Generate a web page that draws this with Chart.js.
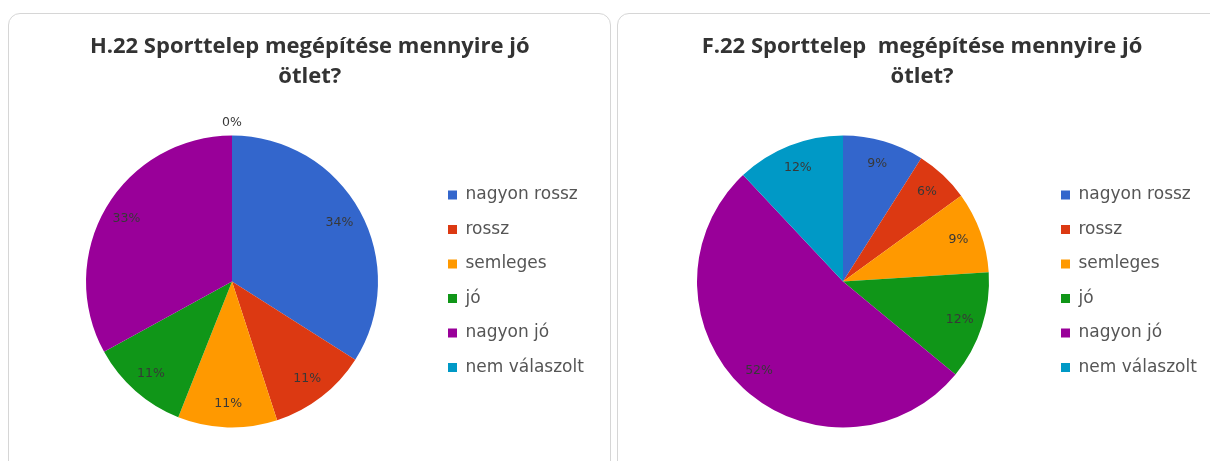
<!DOCTYPE html>
<html>
<head>
<meta charset="utf-8">
<script src="https://cdn.jsdelivr.net/npm/chart.js@4/dist/chart.umd.min.js"></script>
<style>
  html, body { margin: 0; padding: 0; background: #fff; overflow: hidden; }
  body { width: 1210px; height: 461px; position: relative; }
  .panel { position: absolute; top: 13px; height: 470px; border: 1px solid #d6d6d6; border-radius: 12px; background: #fff; }
  canvas { position: absolute; }
</style>
</head>
<body>
<div class="panel" style="left:8px; width:601px;"></div>
<div class="panel" style="left:617px; width:620px;"></div>
<canvas id="chartH" width="600" height="447" style="left:10px; top:14px;"></canvas>
<canvas id="chartF" width="590" height="447" style="left:620px; top:14px;"></canvas>
<script>
// Categories & values (percent)
const categories = ['nagyon rossz', 'rossz', 'semleges', 'jó', 'nagyon jó', 'nem válaszolt'];
const valuesH = [34, 11, 11, 11, 33, 0];
const valuesF = [9, 6, 9, 12, 52, 12];
const sliceColors = ['#3366cc', '#dc3912', '#ff9900', '#109618', '#990099', '#0099c6'];
const titleH = ['H.22 Sporttelep megépítése mennyire jó', 'ötlet?'];
const titleF = ['F.22 Sporttelep  megépítése mennyire jó', 'ötlet?'];

// percentage labels on slices
const pctLabels = {
  id: 'pctLabels',
  afterDatasetsDraw(chart) {
    const ctx = chart.ctx;
    const meta = chart.getDatasetMeta(0);
    const data = chart.data.datasets[0].data;
    ctx.save();
    ctx.font = '12.5px "DejaVu Sans"';
    ctx.fillStyle = '#383838';
    ctx.textAlign = 'center';
    ctx.textBaseline = 'middle';
    meta.data.forEach((arc, i) => {
      const p = arc.getProps(['x', 'y', 'startAngle', 'endAngle', 'outerRadius'], true);
      const mid = (p.startAngle + p.endAngle) / 2;
      const r = data[i] === 0 ? p.outerRadius + 13 : p.outerRadius * 0.84;
      ctx.fillText(data[i] + '%', p.x + Math.cos(mid) * r, p.y + Math.sin(mid) * r);
    });
    ctx.restore();
  }
};

function makePie(id, title, values, padL, padR, legendW) {
  return new Chart(document.getElementById(id).getContext('2d'), {
    type: 'pie',
    data: {
      labels: categories,
      datasets: [{ data: values, backgroundColor: sliceColors, borderWidth: 0 }]
    },
    options: {
      responsive: false,
      animation: false,
      devicePixelRatio: 1,
      layout: { padding: { left: padL, right: padR, top: 0, bottom: 33.5 } },
      plugins: {
        title: {
          display: true,
          text: title,
          color: '#333',
          font: { family: '"Open Sans"', size: 22, weight: 'bold', lineHeight: 1.364 },
          padding: { top: 18, bottom: 43.5 }
        },
        legend: {
          position: 'right',
          align: 'start',
          maxWidth: legendW,
          // empty legend title only pushes the entries down
          title: { display: true, text: ' ', font: { size: 10, lineHeight: 1 }, padding: { top: 145, bottom: 0 } },
          labels: {
            boxWidth: 9, boxHeight: 9, padding: 17.5,
            color: '#555',
            font: { family: '"DejaVu Sans"', size: 17 }
          }
        },
        tooltip: { enabled: false }
      }
    },
    plugins: [pctLabels]
  });
}

makePie('chartH', titleH, valuesH, 23.5, 24, 155.5);
makePie('chartF', titleF, valuesF, 22.5, 8.5, 158);
</script>
</body>
</html>
